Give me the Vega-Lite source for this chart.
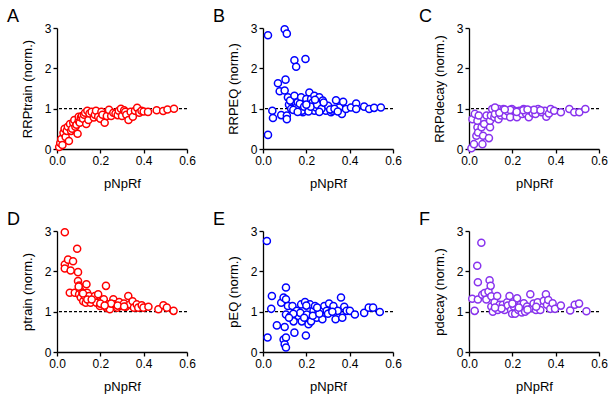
{
  "$schema": "https://vega.github.io/schema/vega-lite/v6.json",
  "background": "white",
  "padding": {"left": 7, "top": 8, "right": 5, "bottom": 5},
  "bounds": "flush",
  "spacing": 203,
  "config": {
    "view": {"stroke": null},
    "font": "Liberation Sans",
    "axis": {"grid": false, "labelFlush": false, "domainColor": "black", "domainWidth": 1.3, "tickColor": "black", "tickWidth": 1.3, "tickSize": 4, "labelColor": "black", "titleColor": "black", "labelFont": "Liberation Sans", "titleFont": "Liberation Sans", "labelFontSize": 12, "titleFontSize": 13, "titleFontWeight": "normal", "labelPadding": 2},
    "axisX": {"titlePadding": 11},
    "axisY": {"titlePadding": 10},
    "title": {"font": "Liberation Sans", "fontSize": 18, "fontWeight": "normal", "color": "black", "anchor": "start", "frame": "group", "dx": -50, "dy": 6, "offset": 2}
  },
  "datasets": {
    "A": [
      {"p":0.01,"v":0.05},{"p":0.015,"v":0.15},{"p":0.02,"v":0.25},{"p":0.025,"v":0.1},{"p":0.03,"v":0.4},{"p":0.035,"v":0.5},{"p":0.04,"v":0.3},{"p":0.045,"v":0.45},{"p":0.05,"v":0.55},{"p":0.055,"v":0.2},{"p":0.06,"v":0.62},{"p":0.065,"v":0.45},{"p":0.07,"v":0.5},{"p":0.075,"v":0.65},{"p":0.08,"v":0.72},{"p":0.085,"v":0.55},{"p":0.09,"v":0.6},{"p":0.095,"v":0.38},{"p":0.1,"v":0.7},{"p":0.1,"v":0.8},{"p":0.105,"v":0.65},{"p":0.11,"v":0.78},{"p":0.115,"v":0.82},{"p":0.12,"v":0.75},{"p":0.125,"v":0.85},{"p":0.13,"v":0.9},{"p":0.135,"v":0.62},{"p":0.14,"v":0.95},{"p":0.145,"v":0.72},{"p":0.15,"v":0.88},{"p":0.16,"v":0.92},{"p":0.17,"v":0.78},{"p":0.175,"v":0.85},{"p":0.18,"v":0.95},{"p":0.19,"v":0.8},{"p":0.2,"v":0.75},{"p":0.205,"v":0.92},{"p":0.21,"v":0.85},{"p":0.22,"v":0.65},{"p":0.23,"v":0.82},{"p":0.24,"v":0.97},{"p":0.25,"v":0.82},{"p":0.26,"v":0.9},{"p":0.27,"v":0.88},{"p":0.28,"v":0.84},{"p":0.285,"v":0.95},{"p":0.295,"v":1.0},{"p":0.3,"v":0.82},{"p":0.31,"v":0.96},{"p":0.315,"v":0.92},{"p":0.32,"v":0.85},{"p":0.33,"v":0.72},{"p":0.34,"v":0.92},{"p":0.35,"v":0.8},{"p":0.36,"v":0.95},{"p":0.37,"v":1.02},{"p":0.38,"v":0.9},{"p":0.39,"v":0.95},{"p":0.4,"v":0.93},{"p":0.42,"v":0.92},{"p":0.46,"v":0.96},{"p":0.49,"v":0.94},{"p":0.51,"v":0.98},{"p":0.54,"v":1.0}
    ],
    "B": [
      {"p":0.023,"v":2.82},{"p":0.023,"v":0.35},{"p":0.043,"v":0.95},{"p":0.046,"v":0.77},{"p":0.069,"v":1.63},{"p":0.077,"v":1.43},{"p":0.084,"v":0.84},{"p":0.1,"v":2.97},{"p":0.11,"v":2.86},{"p":0.104,"v":1.72},{"p":0.1,"v":1.45},{"p":0.11,"v":0.83},{"p":0.11,"v":0.74},{"p":0.115,"v":1.28},{"p":0.12,"v":1.1},{"p":0.125,"v":1.2},{"p":0.145,"v":2.2},{"p":0.153,"v":2.04},{"p":0.145,"v":1.32},{"p":0.153,"v":1.03},{"p":0.16,"v":1.16},{"p":0.176,"v":1.28},{"p":0.184,"v":0.91},{"p":0.196,"v":2.23},{"p":0.2,"v":1.24},{"p":0.207,"v":1.07},{"p":0.214,"v":1.4},{"p":0.222,"v":1.24},{"p":0.23,"v":1.16},{"p":0.237,"v":1.32},{"p":0.237,"v":0.95},{"p":0.245,"v":1.03},{"p":0.25,"v":1.2},{"p":0.26,"v":1.28},{"p":0.268,"v":1.12},{"p":0.276,"v":1.2},{"p":0.283,"v":1.03},{"p":0.29,"v":0.95},{"p":0.306,"v":1.03},{"p":0.314,"v":0.91},{"p":0.32,"v":0.95},{"p":0.337,"v":1.21},{"p":0.352,"v":1.03},{"p":0.364,"v":0.87},{"p":0.37,"v":1.17},{"p":0.383,"v":0.99},{"p":0.406,"v":1.03},{"p":0.43,"v":1.13},{"p":0.43,"v":0.99},{"p":0.467,"v":1.05},{"p":0.49,"v":0.99},{"p":0.513,"v":1.02},{"p":0.544,"v":1.03},{"p":0.13,"v":1.0},{"p":0.14,"v":0.97},{"p":0.17,"v":1.12},{"p":0.18,"v":0.95},{"p":0.19,"v":1.05},{"p":0.21,"v":0.93},{"p":0.22,"v":1.05},{"p":0.25,"v":1.1},{"p":0.27,"v":1.0},{"p":0.3,"v":1.07},{"p":0.31,"v":0.98},{"p":0.33,"v":1.0},{"p":0.345,"v":0.93},{"p":0.26,"v":0.92},{"p":0.28,"v":1.15},{"p":0.24,"v":1.22},{"p":0.2,"v":1.1},{"p":0.16,"v":0.92}
    ],
    "C": [
      {"p":0.011,"v":0.02},{"p":0.016,"v":0.74},{"p":0.023,"v":0.12},{"p":0.027,"v":0.87},{"p":0.034,"v":0.33},{"p":0.039,"v":0.54},{"p":0.042,"v":0.41},{"p":0.039,"v":0.7},{"p":0.045,"v":0.83},{"p":0.058,"v":0.54},{"p":0.062,"v":0.12},{"p":0.065,"v":0.33},{"p":0.07,"v":0.62},{"p":0.081,"v":0.83},{"p":0.092,"v":0.27},{"p":0.097,"v":0.54},{"p":0.097,"v":0.7},{"p":0.101,"v":0.83},{"p":0.107,"v":0.99},{"p":0.117,"v":0.79},{"p":0.12,"v":0.87},{"p":0.136,"v":0.99},{"p":0.136,"v":0.74},{"p":0.148,"v":0.83},{"p":0.159,"v":0.99},{"p":0.167,"v":0.83},{"p":0.179,"v":0.93},{"p":0.19,"v":0.79},{"p":0.198,"v":0.99},{"p":0.21,"v":0.95},{"p":0.221,"v":0.79},{"p":0.232,"v":0.95},{"p":0.245,"v":0.87},{"p":0.252,"v":0.99},{"p":0.263,"v":0.88},{"p":0.276,"v":0.79},{"p":0.283,"v":0.95},{"p":0.294,"v":0.89},{"p":0.307,"v":0.87},{"p":0.319,"v":0.99},{"p":0.335,"v":0.91},{"p":0.35,"v":0.95},{"p":0.357,"v":0.8},{"p":0.369,"v":0.88},{"p":0.377,"v":0.99},{"p":0.393,"v":0.95},{"p":0.424,"v":0.91},{"p":0.463,"v":0.99},{"p":0.486,"v":0.91},{"p":0.509,"v":0.91},{"p":0.537,"v":0.99},{"p":0.14,"v":0.9},{"p":0.19,"v":0.97},{"p":0.25,"v":0.96},{"p":0.3,"v":0.97},{"p":0.22,"v":0.92},{"p":0.27,"v":0.98},{"p":0.33,"v":0.96},{"p":0.12,"v":1.03},{"p":0.165,"v":0.98}
    ],
    "D": [
      {"p":0.036,"v":2.97},{"p":0.036,"v":2.17},{"p":0.036,"v":2.07},{"p":0.051,"v":2.29},{"p":0.059,"v":1.47},{"p":0.063,"v":2.02},{"p":0.074,"v":2.25},{"p":0.082,"v":1.47},{"p":0.093,"v":2.56},{"p":0.097,"v":1.98},{"p":0.097,"v":1.76},{"p":0.102,"v":1.65},{"p":0.105,"v":1.55},{"p":0.102,"v":1.43},{"p":0.11,"v":1.35},{"p":0.117,"v":1.47},{"p":0.121,"v":1.26},{"p":0.128,"v":1.39},{"p":0.133,"v":1.22},{"p":0.136,"v":1.68},{"p":0.139,"v":1.47},{"p":0.148,"v":1.39},{"p":0.155,"v":1.22},{"p":0.167,"v":1.31},{"p":0.175,"v":1.39},{"p":0.182,"v":1.22},{"p":0.19,"v":1.43},{"p":0.198,"v":1.14},{"p":0.206,"v":1.26},{"p":0.216,"v":1.31},{"p":0.226,"v":1.64},{"p":0.229,"v":1.1},{"p":0.236,"v":1.18},{"p":0.244,"v":1.06},{"p":0.26,"v":1.31},{"p":0.267,"v":1.18},{"p":0.278,"v":1.1},{"p":0.287,"v":1.24},{"p":0.298,"v":1.14},{"p":0.309,"v":1.2},{"p":0.318,"v":1.12},{"p":0.329,"v":1.39},{"p":0.337,"v":1.18},{"p":0.349,"v":1.26},{"p":0.355,"v":1.1},{"p":0.368,"v":1.18},{"p":0.375,"v":1.1},{"p":0.391,"v":1.16},{"p":0.399,"v":1.1},{"p":0.422,"v":1.12},{"p":0.468,"v":1.06},{"p":0.491,"v":1.16},{"p":0.507,"v":1.1},{"p":0.538,"v":1.02},{"p":0.1,"v":1.62},{"p":0.12,"v":1.45},{"p":0.14,"v":1.3},{"p":0.16,"v":1.3},{"p":0.2,"v":1.2},{"p":0.25,"v":1.2},{"p":0.28,"v":1.15},{"p":0.31,"v":1.13},{"p":0.22,"v":1.15}
    ],
    "E": [
      {"p":0.018,"v":2.75},{"p":0.021,"v":0.36},{"p":0.041,"v":1.39},{"p":0.038,"v":1.07},{"p":0.064,"v":0.66},{"p":0.084,"v":1.22},{"p":0.095,"v":1.35},{"p":0.106,"v":1.6},{"p":0.106,"v":1.31},{"p":0.095,"v":0.31},{"p":0.1,"v":0.19},{"p":0.106,"v":0.11},{"p":0.106,"v":0.36},{"p":0.1,"v":0.62},{"p":0.106,"v":0.93},{"p":0.115,"v":1.14},{"p":0.126,"v":0.89},{"p":0.136,"v":1.14},{"p":0.141,"v":0.76},{"p":0.145,"v":0.48},{"p":0.156,"v":1.02},{"p":0.164,"v":0.89},{"p":0.172,"v":0.97},{"p":0.176,"v":1.18},{"p":0.179,"v":0.76},{"p":0.194,"v":1.24},{"p":0.198,"v":0.41},{"p":0.202,"v":0.93},{"p":0.21,"v":0.69},{"p":0.217,"v":1.18},{"p":0.222,"v":0.76},{"p":0.233,"v":1.02},{"p":0.24,"v":1.14},{"p":0.248,"v":0.85},{"p":0.256,"v":1.02},{"p":0.268,"v":1.02},{"p":0.274,"v":0.81},{"p":0.283,"v":1.14},{"p":0.294,"v":1.02},{"p":0.305,"v":1.2},{"p":0.314,"v":0.99},{"p":0.325,"v":1.14},{"p":0.335,"v":0.81},{"p":0.345,"v":1.02},{"p":0.36,"v":1.35},{"p":0.366,"v":0.85},{"p":0.375,"v":1.12},{"p":0.386,"v":1.02},{"p":0.401,"v":1.02},{"p":0.424,"v":0.93},{"p":0.467,"v":0.97},{"p":0.488,"v":1.1},{"p":0.508,"v":1.1},{"p":0.539,"v":0.99},{"p":0.14,"v":0.95},{"p":0.19,"v":0.85},{"p":0.23,"v":0.9},{"p":0.26,"v":0.95},{"p":0.3,"v":0.95},{"p":0.2,"v":1.15},{"p":0.12,"v":0.85},{"p":0.25,"v":1.1},{"p":0.32,"v":1.0}
    ],
    "F": [
      {"p":0.015,"v":1.32},{"p":0.026,"v":1.02},{"p":0.038,"v":2.14},{"p":0.041,"v":1.73},{"p":0.041,"v":1.3},{"p":0.057,"v":2.71},{"p":0.061,"v":1.42},{"p":0.072,"v":1.46},{"p":0.08,"v":1.3},{"p":0.09,"v":1.5},{"p":0.095,"v":1.78},{"p":0.1,"v":1.64},{"p":0.103,"v":1.38},{"p":0.103,"v":1.13},{"p":0.11,"v":1.0},{"p":0.118,"v":1.23},{"p":0.13,"v":1.39},{"p":0.133,"v":1.04},{"p":0.141,"v":1.17},{"p":0.156,"v":1.17},{"p":0.164,"v":1.04},{"p":0.176,"v":1.23},{"p":0.179,"v":1.15},{"p":0.187,"v":1.39},{"p":0.194,"v":1.04},{"p":0.199,"v":0.95},{"p":0.207,"v":1.13},{"p":0.213,"v":0.95},{"p":0.222,"v":1.33},{"p":0.228,"v":1.04},{"p":0.237,"v":1.17},{"p":0.244,"v":0.98},{"p":0.253,"v":1.21},{"p":0.259,"v":1.0},{"p":0.268,"v":1.13},{"p":0.283,"v":1.43},{"p":0.289,"v":1.09},{"p":0.298,"v":1.2},{"p":0.309,"v":1.04},{"p":0.317,"v":1.23},{"p":0.329,"v":1.04},{"p":0.345,"v":1.27},{"p":0.355,"v":1.43},{"p":0.36,"v":1.17},{"p":0.366,"v":1.29},{"p":0.375,"v":1.07},{"p":0.386,"v":1.21},{"p":0.397,"v":1.07},{"p":0.424,"v":1.15},{"p":0.467,"v":1.03},{"p":0.488,"v":1.17},{"p":0.508,"v":1.2},{"p":0.542,"v":1.01},{"p":0.15,"v":1.08},{"p":0.23,"v":1.1},{"p":0.27,"v":1.05},{"p":0.2,"v":1.2},{"p":0.31,"v":1.12},{"p":0.12,"v":1.1}
    ]
  },
  "vconcat": [
    {"bounds": "flush", "spacing": 76, "hconcat": [
      {"title": "A", "width": 130, "height": 121, "layer": [
        {"data": {"values": [{}]}, "mark": {"type": "rule", "color": "black", "strokeWidth": 1.2, "strokeDash": [3, 2]}, "encoding": {"y": {"datum": 1}}},
        {"data": {"name": "A"}, "mark": {"type": "point", "shape": "circle", "filled": true, "fill": "white", "stroke": "#ff0000", "strokeWidth": 1.5, "size": 50, "opacity": 1},
         "encoding": {"x": {"field": "p", "type": "quantitative", "scale": {"domain": [0, 0.6], "nice": false}, "axis": {"values": [0, 0.2, 0.4, 0.6], "format": ".1f", "title": "pNpRf"}},
                      "y": {"field": "v", "type": "quantitative", "scale": {"domain": [0, 3], "nice": false}, "axis": {"values": [0, 1, 2, 3], "title": "RRPtrain (norm.)"}}}}
      ]},
      {"title": "B", "width": 130, "height": 121, "layer": [
        {"data": {"values": [{}]}, "mark": {"type": "rule", "color": "black", "strokeWidth": 1.2, "strokeDash": [3, 2]}, "encoding": {"y": {"datum": 1}}},
        {"data": {"name": "B"}, "mark": {"type": "point", "shape": "circle", "filled": true, "fill": "white", "stroke": "#0000ff", "strokeWidth": 1.5, "size": 50, "opacity": 1},
         "encoding": {"x": {"field": "p", "type": "quantitative", "scale": {"domain": [0, 0.6], "nice": false}, "axis": {"values": [0, 0.2, 0.4, 0.6], "format": ".1f", "title": "pNpRf"}},
                      "y": {"field": "v", "type": "quantitative", "scale": {"domain": [0, 3], "nice": false}, "axis": {"values": [0, 1, 2, 3], "title": "RRPEQ (norm.)"}}}}
      ]},
      {"title": "C", "width": 130, "height": 121, "layer": [
        {"data": {"values": [{}]}, "mark": {"type": "rule", "color": "black", "strokeWidth": 1.2, "strokeDash": [3, 2]}, "encoding": {"y": {"datum": 1}}},
        {"data": {"name": "C"}, "mark": {"type": "point", "shape": "circle", "filled": true, "fill": "white", "stroke": "#8833ee", "strokeWidth": 1.5, "size": 50, "opacity": 1},
         "encoding": {"x": {"field": "p", "type": "quantitative", "scale": {"domain": [0, 0.6], "nice": false}, "axis": {"values": [0, 0.2, 0.4, 0.6], "format": ".1f", "title": "pNpRf"}},
                      "y": {"field": "v", "type": "quantitative", "scale": {"domain": [0, 3], "nice": false}, "axis": {"values": [0, 1, 2, 3], "title": "RRPdecay (norm.)"}}}}
      ]}
    ]},
    {"bounds": "flush", "spacing": 76, "hconcat": [
      {"title": "D", "width": 130, "height": 121, "layer": [
        {"data": {"values": [{}]}, "mark": {"type": "rule", "color": "black", "strokeWidth": 1.2, "strokeDash": [3, 2]}, "encoding": {"y": {"datum": 1}}},
        {"data": {"name": "D"}, "mark": {"type": "point", "shape": "circle", "filled": true, "fill": "white", "stroke": "#ff0000", "strokeWidth": 1.5, "size": 50, "opacity": 1},
         "encoding": {"x": {"field": "p", "type": "quantitative", "scale": {"domain": [0, 0.6], "nice": false}, "axis": {"values": [0, 0.2, 0.4, 0.6], "format": ".1f", "title": "pNpRf"}},
                      "y": {"field": "v", "type": "quantitative", "scale": {"domain": [0, 3], "nice": false}, "axis": {"values": [0, 1, 2, 3], "title": "ptrain (norm.)"}}}}
      ]},
      {"title": "E", "width": 130, "height": 121, "layer": [
        {"data": {"values": [{}]}, "mark": {"type": "rule", "color": "black", "strokeWidth": 1.2, "strokeDash": [3, 2]}, "encoding": {"y": {"datum": 1}}},
        {"data": {"name": "E"}, "mark": {"type": "point", "shape": "circle", "filled": true, "fill": "white", "stroke": "#0000ff", "strokeWidth": 1.5, "size": 50, "opacity": 1},
         "encoding": {"x": {"field": "p", "type": "quantitative", "scale": {"domain": [0, 0.6], "nice": false}, "axis": {"values": [0, 0.2, 0.4, 0.6], "format": ".1f", "title": "pNpRf"}},
                      "y": {"field": "v", "type": "quantitative", "scale": {"domain": [0, 3], "nice": false}, "axis": {"values": [0, 1, 2, 3], "title": "pEQ (norm.)"}}}}
      ]},
      {"title": "F", "width": 130, "height": 121, "layer": [
        {"data": {"values": [{}]}, "mark": {"type": "rule", "color": "black", "strokeWidth": 1.2, "strokeDash": [3, 2]}, "encoding": {"y": {"datum": 1}}},
        {"data": {"name": "F"}, "mark": {"type": "point", "shape": "circle", "filled": true, "fill": "white", "stroke": "#8833ee", "strokeWidth": 1.5, "size": 50, "opacity": 1},
         "encoding": {"x": {"field": "p", "type": "quantitative", "scale": {"domain": [0, 0.6], "nice": false}, "axis": {"values": [0, 0.2, 0.4, 0.6], "format": ".1f", "title": "pNpRf"}},
                      "y": {"field": "v", "type": "quantitative", "scale": {"domain": [0, 3], "nice": false}, "axis": {"values": [0, 1, 2, 3], "title": "pdecay (norm.)"}}}}
      ]}
    ]}
  ]
}
